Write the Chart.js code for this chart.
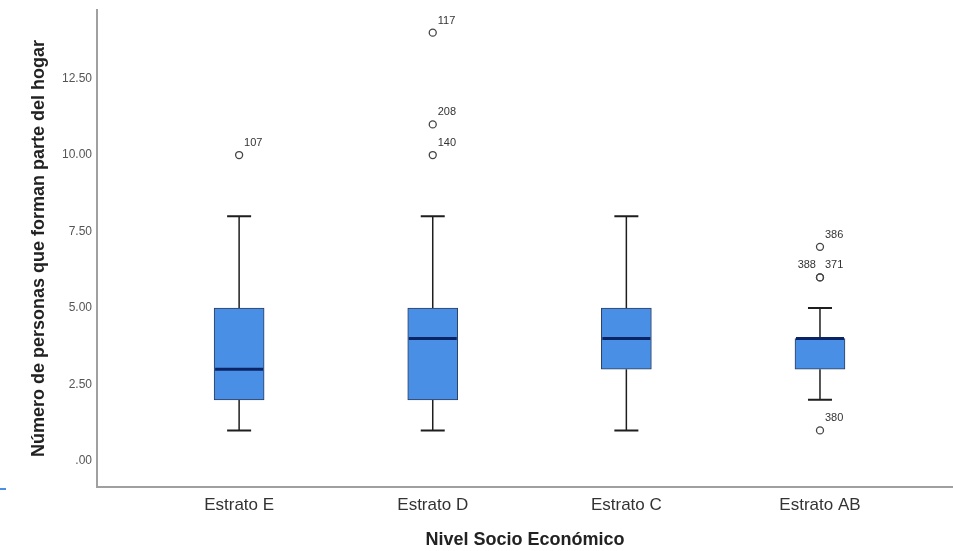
<!DOCTYPE html>
<html><head><meta charset="utf-8">
<script src="https://cdn.jsdelivr.net/npm/chart.js@4.4.1/dist/chart.umd.min.js"></script>
<style>html,body{margin:0;padding:0;background:#fff;overflow:hidden;}canvas{display:block;}</style>
</head><body><canvas id="c" width="953" height="551"></canvas>
<script>
const categories = ['Estrato E', 'Estrato D', 'Estrato C', 'Estrato AB'];
const minimums = [1, 1, 1, 2];
const q1Values = [2, 2, 3, 3];
const medians = [3, 4, 4, 4];
const q3Values = [5, 5, 5, 4];
const maximums = [8, 8, 8, 5];
const outlierValues = [[10], [14, 11, 10], [], [7, 6, 6, 1]];
const outlierLabels = [['107'], ['117', '208', '140'], [], ['386', '388', '371', '380']];
const yTicks = [0, 2.5, 5, 7.5, 10, 12.5];

const boxData = categories.map((c, i) => ({ x: i, y: [q1Values[i], q3Values[i]] }));
const outlierData = [];
outlierValues.forEach((arr, i) => arr.forEach((v, j) => outlierData.push({ x: i, y: v, label: outlierLabels[i][j] })));

const boxPlugin = {
  id: 'boxExtras',
  beforeDatasetsDraw(chart) {
    const ctx = chart.ctx, xs = chart.scales.x, ys = chart.scales.y;
    ctx.save();
    ctx.strokeStyle = '#1e1e1e';
    categories.forEach((c, i) => {
      const x = xs.getPixelForValue(i);
      ctx.lineWidth = 1.5;
      ctx.beginPath();
      ctx.moveTo(x, ys.getPixelForValue(q3Values[i]));
      ctx.lineTo(x, ys.getPixelForValue(maximums[i]));
      ctx.moveTo(x, ys.getPixelForValue(q1Values[i]));
      ctx.lineTo(x, ys.getPixelForValue(minimums[i]));
      ctx.stroke();
      ctx.lineWidth = 2;
      ctx.beginPath();
      [maximums[i], minimums[i]].forEach(v => {
        const y = ys.getPixelForValue(v);
        ctx.moveTo(x - 12, y);
        ctx.lineTo(x + 12, y);
      });
      ctx.stroke();
    });
    ctx.restore();
  },
  afterDatasetsDraw(chart) {
    const ctx = chart.ctx, xs = chart.scales.x, ys = chart.scales.y;
    ctx.save();
    ctx.strokeStyle = '#0b2466';
    ctx.lineWidth = 3;
    categories.forEach((c, i) => {
      const x = xs.getPixelForValue(i);
      const y = ys.getPixelForValue(medians[i]);
      ctx.beginPath();
      ctx.moveTo(x - 24, y);
      ctx.lineTo(x + 24, y);
      ctx.stroke();
    });
    ctx.fillStyle = '#333';
    ctx.font = '11px "Liberation Sans", Arial, sans-serif';
    ctx.textBaseline = 'middle';
    outlierValues.forEach((arr, i) => {
      const seen = {};
      arr.forEach((v, j) => {
        const x = xs.getPixelForValue(i);
        const y = ys.getPixelForValue(v);
        const lbl = outlierLabels[i][j];
        if (seen[v]) {
          ctx.textAlign = 'left';
          ctx.fillText(lbl, x + 5, y - 12);
        } else if (arr.filter(w => w === v).length > 1) {
          ctx.textAlign = 'right';
          ctx.fillText(lbl, x - 4, y - 12);
        } else {
          ctx.textAlign = 'left';
          ctx.fillText(lbl, x + 5, y - 12);
        }
        seen[v] = true;
      });
    });
    ctx.strokeStyle = '#4a8fe0';
    ctx.lineWidth = 2;
    ctx.beginPath();
    ctx.moveTo(0, chart.chartArea.bottom + 2);
    ctx.lineTo(6, chart.chartArea.bottom + 2);
    ctx.stroke();
    ctx.restore();
  }
};

new Chart(document.getElementById('c'), {
  type: 'bar',
  data: {
    datasets: [
      {
        type: 'bar',
        data: boxData,
        backgroundColor: '#4a8fe6',
        borderColor: '#2c3e5c',
        borderWidth: 1,
        borderSkipped: false,
        barThickness: 50
      },
      {
        type: 'scatter',
        data: outlierData,
        pointRadius: 3.5,
        pointBorderWidth: 1.3,
        pointBorderColor: '#444',
        pointBackgroundColor: 'rgba(255,255,255,0)'
      }
    ]
  },
  options: {
    responsive: false,
    animation: false,
    layout: { autoPadding: false, padding: { top: 10, right: 0, left: 0, bottom: 0 } },
    plugins: { legend: { display: false }, tooltip: { enabled: false } },
    scales: {
      x: {
        type: 'linear',
        min: -0.734,
        max: 3.687,
        offset: false,
        grid: { display: false, drawTicks: false },
        border: { display: true, color: '#a0a0a0', width: 2 },
        afterBuildTicks: s => { s.ticks = categories.map((c, i) => ({ value: i })); },
        afterFit: s => { s.height = 64; s.paddingLeft = 0; s.paddingRight = 0; },
        ticks: {
          padding: 8,
          color: '#333',
          font: { family: '"Liberation Sans", Arial, sans-serif', size: 17 },
          callback: v => categories[v],
          maxRotation: 0,
          autoSkip: false
        },
        title: {
          display: true,
          text: 'Nivel Socio Económico',
          color: '#222',
          font: { family: '"Liberation Sans", Arial, sans-serif', size: 18, weight: 'bold' },
          padding: { top: 0, bottom: 0 }
        }
      },
      y: {
        min: -0.85,
        max: 14.74,
        grid: { display: false, drawTicks: false },
        border: { display: true, color: '#a0a0a0', width: 2 },
        afterBuildTicks: s => { s.ticks = yTicks.map(v => ({ value: v })); },
        afterFit: s => { s.width = 97; s.paddingTop = 0; s.paddingBottom = 0; },
        ticks: {
          padding: 5,
          color: '#555',
          font: { family: '"Liberation Sans", Arial, sans-serif', size: 12 },
          callback: v => (v === 0 ? '.00' : v.toFixed(2))
        },
        title: {
          display: true,
          text: 'Número de personas que forman parte del hogar',
          color: '#222',
          font: { family: '"Liberation Sans", Arial, sans-serif', size: 18, weight: 'bold' },
          padding: { top: 28, bottom: 0 }
        }
      }
    }
  },
  plugins: [boxPlugin]
});
</script>
</body></html>
